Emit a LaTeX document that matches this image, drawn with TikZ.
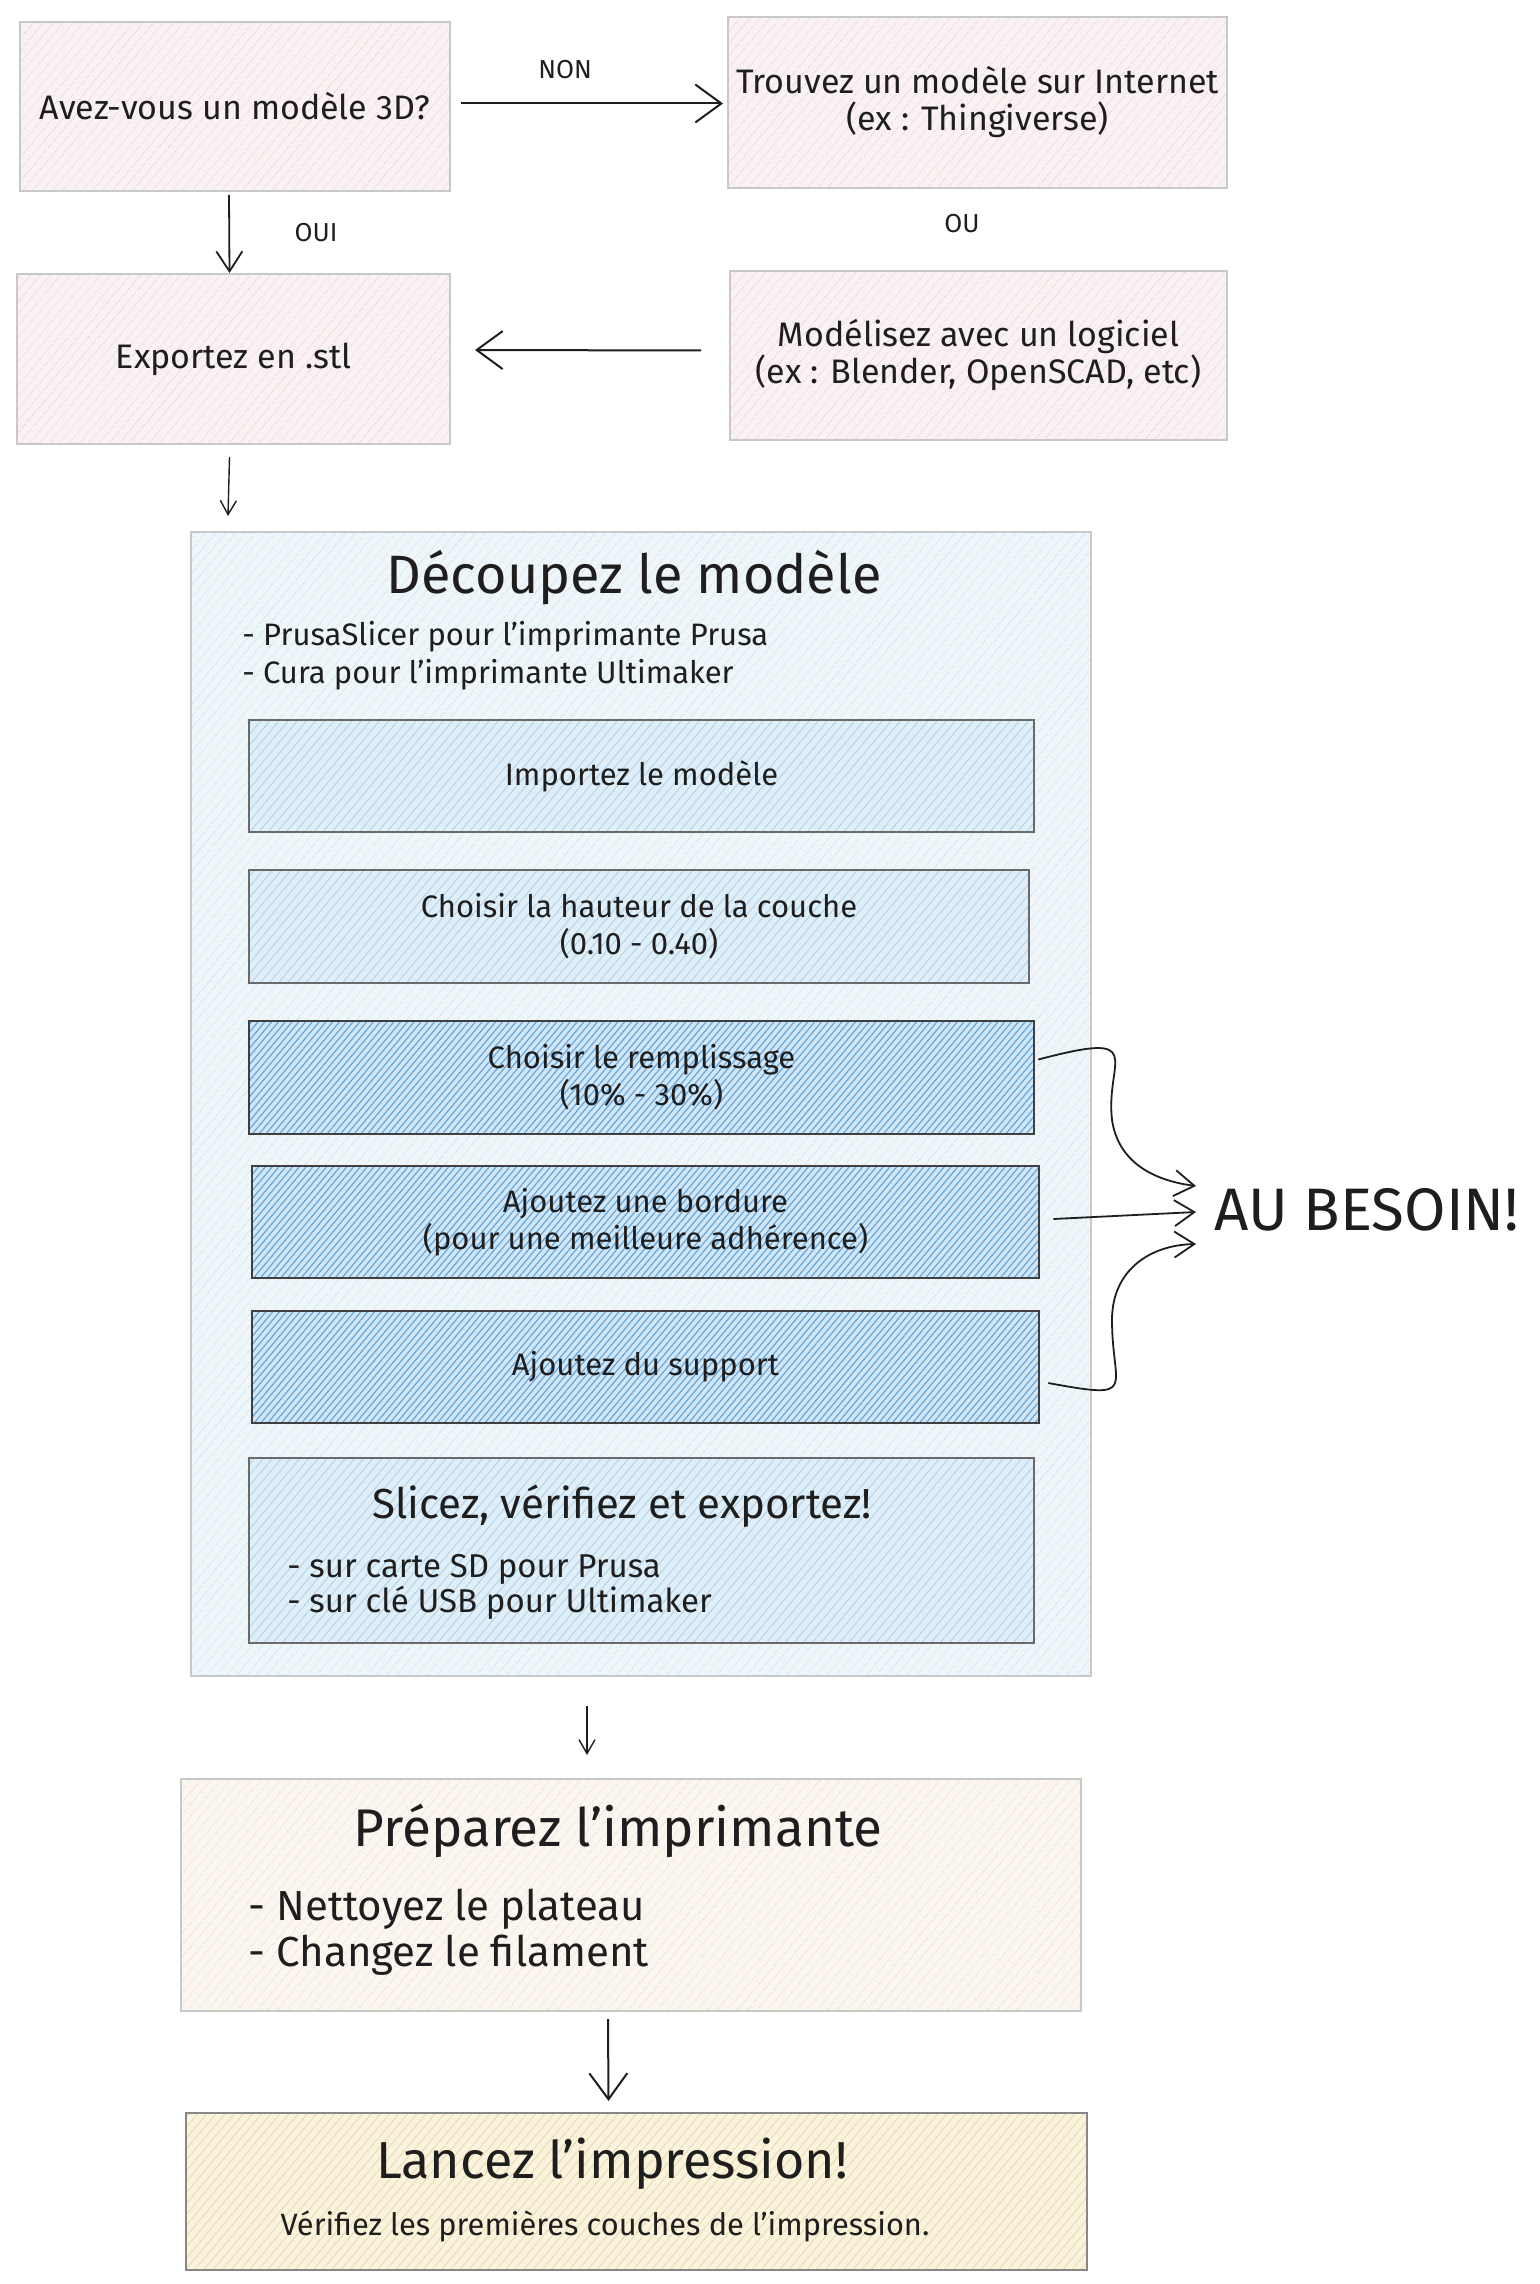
\documentclass[tikz,border=0pt]{standalone}
\usepackage{fontspec}
\setmainfont{Fira Sans}
\usetikzlibrary{arrows.meta,patterns.meta}
\definecolor{pinkbg}{HTML}{FAF1F2}
\definecolor{pinkln}{HTML}{EBD6DA}
\definecolor{contbg}{HTML}{EEF6FA}
\definecolor{contln}{HTML}{D0E3EC}
\definecolor{lbluebg}{HTML}{E0EEF8}
\definecolor{lblueln}{HTML}{B3D4EB}
\definecolor{dbluebg}{HTML}{D2E6F6}
\definecolor{dblueln}{HTML}{62A7E0}
\definecolor{beigebg}{HTML}{FBF6EF}
\definecolor{beigeln}{HTML}{EDE1D0}
\definecolor{yellbg}{HTML}{FAF3DE}
\definecolor{yellln}{HTML}{EBDDB0}
\definecolor{boxgray}{HTML}{C8C8C8}
\definecolor{darkgray}{HTML}{6A6A6A}
\definecolor{inkk}{HTML}{1E1E1E}
\tikzset{
  base/.style={rectangle, inner sep=0pt, align=center, text=inkk,
    font=\fontsize{15.5}{18.5}\selectfont},
  sz/.style 2 args={minimum width=#1*0.5pt, minimum height=#2*0.5pt},
  hatch/.style n args={4}{preaction={fill=#1},
    pattern={Lines[angle=50,distance=#3,line width=#4]}, pattern color=#2},
  pinkbox/.style={base, hatch={pinkbg}{pinkln}{4pt}{0.45pt}, draw=boxgray, line width=1pt,
    font=\fontsize{17}{18.5}\selectfont},
  contbox/.style={base, hatch={contbg}{contln}{4pt}{0.45pt}, draw=boxgray, line width=1pt},
  lbluebox/.style={base, hatch={lbluebg}{lblueln}{3.5pt}{0.5pt}, draw=darkgray, line width=1pt},
  dbluebox/.style={base, hatch={dbluebg}{dblueln}{2.6pt}{0.6pt}, draw=inkk!85, line width=1.3pt},
  beigebox/.style={base, hatch={beigebg}{beigeln}{4pt}{0.45pt}, draw=boxgray, line width=1pt},
  yellbox/.style={base, hatch={yellbg}{yellln}{3.5pt}{0.5pt}, draw=darkgray!80, line width=1.1pt},
  txt/.style={inner sep=0pt, text=inkk, align=left},
  bigarr/.style={draw=inkk, line width=1pt, -{Straight Barb[length=13pt,width=19pt,line width=1pt]}},
  midarr/.style={draw=inkk, line width=0.9pt, -{Straight Barb[length=10pt,width=13pt,line width=0.9pt]}},
  smallarr/.style={draw=inkk, line width=0.7pt, -{Straight Barb[length=7pt,width=8pt,line width=0.7pt]}},
}
\begin{document}
\begin{tikzpicture}[x=0.5pt,y=-0.5pt]
\useasboundingbox (0,0) rectangle (1540,2284);
\fill[white] (0,0) rectangle (1540,2284);

% top boxes
\node[pinkbox, sz={430}{169}] (A) at (235,106.5) {Avez-vous un modèle 3D?};
\node[pinkbox, sz={499}{171}] (T) at (977.5,102.5) {Trouvez un modèle sur Internet\\(ex : Thingiverse)};
\node[pinkbox, sz={433}{170}] (E) at (233.5,359) {Exportez en .stl};
\node[pinkbox, sz={497}{169}] (M) at (978.5,355.5) {Modélisez avec un logiciel\\(ex : Blender, OpenSCAD, etc)};

\node[txt, font=\fontsize{13}{16}\selectfont] (non) at (565,70) {NON};
\node[txt, font=\fontsize{13}{16}\selectfont] (oui) at (316,233) {OUI};
\node[txt, font=\fontsize{13}{16}\selectfont] (ou) at (962,224) {OU};

\draw[bigarr] ([shift={(10,-3)}]A.east) -- ([shift={(-4,1)}]T.west);
\draw[midarr] ([shift={(-6,3)}]A.south) -- ([shift={(-4,0)}]E.north);
\draw[bigarr] ([shift={(-28,-5)}]M.west) -- ([shift={(24,-9)}]E.east);

% container
\node[contbox, sz={900}{1144}] (C) at (641,1104) {};
\node[txt, font=\fontsize{27}{30}\selectfont, anchor=center] (ctitle) at (634,578) {Découpez le modèle};
\node[txt, font=\fontsize{15.5}{19}\selectfont, anchor=west] (clist) at (242,656)
  {- PrusaSlicer pour l'imprimante Prusa\\- Cura pour l'imprimante Ultimaker};

\draw[smallarr] ([shift={(-4,12)}]E.south) -- ([shift={(38,-15)}]C.north west);

\node[lbluebox, sz={785}{112}] (I) at (641.5,776) {Importez le modèle};
\node[lbluebox, sz={780}{113}] (H) at (639,926.5) {Choisir la hauteur de la couche\\(0.10 - 0.40)};
\node[dbluebox, sz={785}{113}] (R) at (641.5,1077.5) {Choisir le remplissage\\(10\% - 30\%)};
\node[dbluebox, sz={787}{112}] (B) at (645.5,1222) {Ajoutez une bordure\\(pour une meilleure adhérence)};
\node[dbluebox, sz={787}{112}] (S) at (645.5,1367) {Ajoutez du support};
\node[lbluebox, sz={785}{185}] (SL) at (641.5,1550.5) {};
\node[txt, font=\fontsize{21}{24}\selectfont, anchor=center] (sltitle) at (622,1506) {Slicez, vérifiez et exportez!};
\node[txt, font=\fontsize{16.5}{17.5}\selectfont, anchor=west] (sllist) at (287,1587)
  {- sur carte SD pour Prusa\\- sur clé USB pour Ultimaker};

% AU BESOIN
\node[txt, font=\fontsize{30}{34}\selectfont, anchor=west] (besoin) at (1214,1210) {AU BESOIN!};
\draw[midarr] ([shift={(3,-18)}]R.east) .. controls (1150,1030) and (1105,1060) .. (1112,1120)
   .. controls (1118,1160) and (1150,1180) .. ([shift={(-18,-24)}]besoin.west);
\draw[midarr] ([shift={(13,-3)}]B.east) -- ([shift={(-18,2)}]besoin.west);
\draw[midarr] ([shift={(8,16)}]S.east) .. controls (1140,1400) and (1112,1390) .. (1112,1320)
   .. controls (1112,1270) and (1150,1245) .. ([shift={(-18,34)}]besoin.west);

% prepare
\node[beigebox, sz={900}{232}] (P) at (631,1895) {};
\node[txt, font=\fontsize{26.5}{30}\selectfont, anchor=center] (ptitle) at (618,1831) {Préparez l'imprimante};
\node[txt, font=\fontsize{21}{23}\selectfont, anchor=west] (plist) at (248,1932)
  {- Nettoyez le plateau\\- Changez le filament};
\draw[smallarr] ([shift={(-54,29)}]C.south) -- ([shift={(-44,-23)}]P.north);

\node[yellbox, sz={901}{157}] (L) at (636.5,2191.5) {};
\node[txt, font=\fontsize{26}{30}\selectfont, anchor=center] (ltitle) at (612,2164) {Lancez l'impression!};
\node[txt, font=\fontsize{15.4}{17}\selectfont, anchor=center] (lsub) at (605,2226) {Vérifiez les premières couches de l'impression.};
\draw[bigarr] ([shift={(-23,7)}]P.south) -- ([shift={(-28,-11)}]L.north);
\end{tikzpicture}
\end{document}
